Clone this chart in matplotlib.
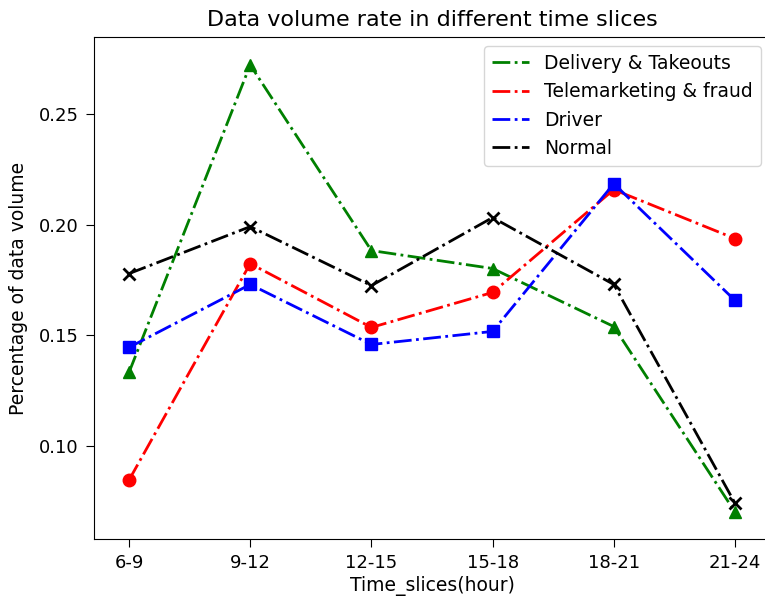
import matplotlib
matplotlib.use('Agg')
import matplotlib.pyplot as plt

# Data
time_slices = ['6-9', '9-12', '12-15', '15-18', '18-21', '21-24']
delivery = [0.1333, 0.2721, 0.1883, 0.1802, 0.1540, 0.0703]
telemarketing = [0.0847, 0.1824, 0.1536, 0.1694, 0.2158, 0.1937]
driver = [0.1446, 0.1730, 0.1459, 0.1518, 0.2185, 0.1658]
normal = [0.1779, 0.1991, 0.1725, 0.2032, 0.1730, 0.0743]

fig = plt.figure(figsize=(7.65, 6.01), dpi=100)
ax = fig.add_axes([94 / 765, 62 / 601, 676 / 765, 502 / 601])

x = range(len(time_slices))
# lines carry the legend, markers are drawn on top without a label
series = [(delivery, 'g', '^', 'Delivery & Takeouts'),
          (telemarketing, 'r', 'o', 'Telemarketing & fraud'),
          (driver, 'b', 's', 'Driver'),
          (normal, 'k', 'x', 'Normal')]
for vals, c, m, name in series:
    ax.plot(x, vals, color=c, ls='-.', lw=2, label=name)
    ax.plot(x, vals, color=c, ls='none', marker=m, ms=9, mew=2 if m == 'x' else 1)

ax.set_xticks(list(x))
ax.set_xticklabels(time_slices)
ax.set_xlim(-0.289, 5.289)
ax.set_ylim(0.0581, 0.2847)
ax.set_yticks([0.10, 0.15, 0.20, 0.25])
ax.tick_params(labelsize=13, length=6, pad=5)

ax.set_title('Data volume rate in different time slices', fontsize=16, pad=8)
ax.set_xlabel('Time_slices(hour)', fontsize=13.5, labelpad=3)
ax.set_ylabel('Percentage of data volume', fontsize=13.5, labelpad=8)
ax.legend(loc='upper right', fontsize=13.5)

plt.savefig('out.png')
